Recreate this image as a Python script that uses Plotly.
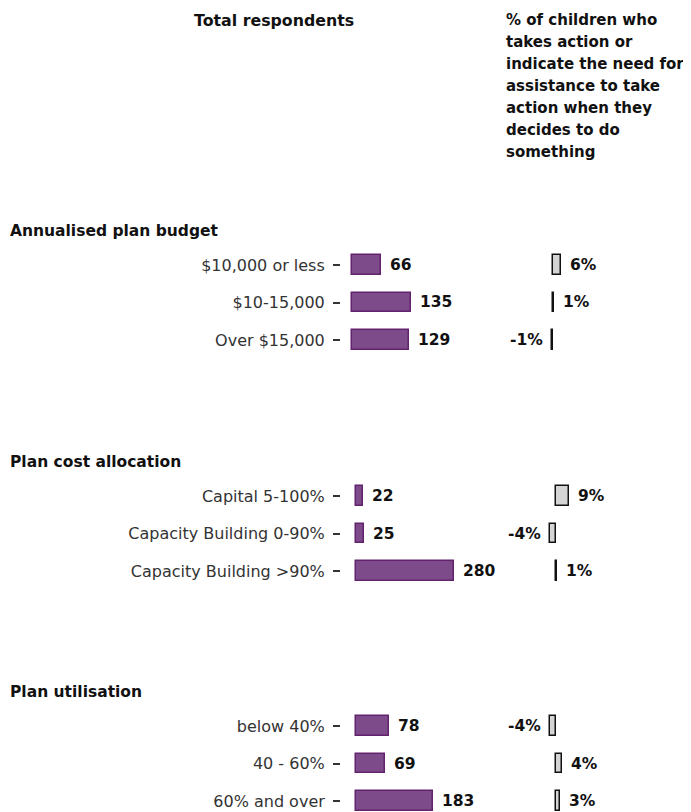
import plotly.graph_objects as go
from plotly.subplots import make_subplots

# data
budget_labels = ["$10,000 or less", "$10-15,000", "Over $15,000"]
budget_n = [66, 135, 129]
budget_pct = [6, 1, -1]

alloc_labels = ["Capital 5-100%", "Capacity Building 0-90%", "Capacity Building >90%"]
alloc_n = [22, 25, 280]
alloc_pct = [9, -4, 1]

util_labels = ["below 40%", "40 - 60%", "60% and over"]
util_n = [78, 69, 183]
util_pct = [-4, 4, 3]

section_titles = ["Annualised plan budget", "Plan cost allocation", "Plan utilisation"]
left_heading = "Total respondents"
right_heading = ["% of children who", "takes action or", "indicate the need for",
                 "assistance to take", "action when they", "decides to do", "something"]

panels = [
    (budget_labels, budget_n, budget_pct),
    (alloc_labels, alloc_n, alloc_pct),
    (util_labels, util_n, util_pct),
]

# page body has an 8px margin, so the figure is a bit smaller than the window
OFF = 8
W, H = 691 - OFF, 812 - OFF
FONT = "DejaVu Sans"
PURPLE = "#7e4b8a"
PURPLE_LINE = "#62226e"


def px_x(p):
    return (p - OFF) / W


def px_y(p):
    return 1 - (p - OFF) / H


# window-pixel layout of each panel row: first row centre, zero of the count axis,
# px per respondent, zero of the % axis, px per percent
row_px = [265, 496, 726]
n_zero = [352, 355.5, 356]
n_scale = [0.44, 0.35, 0.42]
p_zero = [553, 556, 556]
p_scale = 1.4
step = 37.5
left_dom = (341, 500)
right_dom = (505, 690)

fig = make_subplots(rows=3, cols=2)
annotations = []

for i, (labels, counts, pcts) in enumerate(panels):
    r = i + 1
    fig.add_trace(go.Bar(
        x=counts, y=labels, orientation="h", width=0.53,
        marker=dict(color=PURPLE, line=dict(color=PURPLE_LINE, width=1.5)),
        hoverinfo="skip", showlegend=False), row=r, col=1)
    fig.add_trace(go.Bar(
        x=pcts, y=labels, orientation="h", width=0.53,
        marker=dict(color="#d4d4d4", line=dict(color="#111111", width=1.5)),
        hoverinfo="skip", showlegend=False), row=r, col=2)

    xl = "x" if i == 0 else "x%d" % (2 * i + 1)
    yl = "y" if i == 0 else "y%d" % (2 * i + 1)
    xr = "x%d" % (2 * i + 2)
    yr = "y%d" % (2 * i + 2)

    top = row_px[i] - 19
    bot = min(row_px[i] + 2 * step + 19, 812)
    ydom = [px_y(bot), px_y(top)]
    yrange = [(bot - row_px[i]) / step, (top - row_px[i]) / step]

    ax = dict(showgrid=False, zeroline=False, showline=False)
    fig.update_layout(**{
        ("xaxis" if i == 0 else "xaxis%d" % (2 * i + 1)): dict(
            ax, domain=[px_x(left_dom[0]), px_x(left_dom[1])], showticklabels=False,
            range=[(left_dom[0] - n_zero[i]) / n_scale[i], (left_dom[1] - n_zero[i]) / n_scale[i]]),
        ("yaxis" if i == 0 else "yaxis%d" % (2 * i + 1)): dict(
            ax, domain=ydom, range=yrange, type="category", categoryarray=labels,
            ticks="outside", ticklen=7, tickwidth=1.5, tickcolor="#333333",
            ticklabelstandoff=5,
            tickfont=dict(family=FONT, size=16, color="#333333")),
        "xaxis%d" % (2 * i + 2): dict(
            ax, domain=[px_x(right_dom[0]), px_x(right_dom[1])], showticklabels=False,
            range=[(right_dom[0] - p_zero[i]) / p_scale, (right_dom[1] - p_zero[i]) / p_scale]),
        "yaxis%d" % (2 * i + 2): dict(
            ax, domain=ydom, range=yrange, type="category", categoryarray=labels,
            showticklabels=False),
    })

    for lab, v in zip(labels, counts):
        annotations.append(dict(
            x=v, y=lab, xref=xl, yref=yl, text="<b>%d</b>" % v, showarrow=False,
            xanchor="left", xshift=7, font=dict(family=FONT, size=15.5, color="#111111")))
    for lab, v in zip(labels, pcts):
        annotations.append(dict(
            x=v, y=lab, xref=xr, yref=yr, text="<b>%d%%</b>" % v, showarrow=False,
            xanchor="left" if v >= 0 else "right", xshift=7 if v >= 0 else -7,
            font=dict(family=FONT, size=15.5, color="#111111")))

    annotations.append(dict(
        x=px_x(8), y=px_y(row_px[i] - 34), xref="paper", yref="paper",
        text="<b>%s</b>" % section_titles[i], showarrow=False, xanchor="left",
        yanchor="middle", font=dict(family=FONT, size=15.5, color="#111111")))

annotations.append(dict(
    x=px_x(274), y=px_y(20), xref="paper", yref="paper", text="<b>%s</b>" % left_heading,
    showarrow=False, xanchor="center", yanchor="middle",
    font=dict(family=FONT, size=15.8, color="#111111")))
for k, line in enumerate(right_heading):
    annotations.append(dict(
        x=px_x(504), y=px_y(20 + 22 * k), xref="paper", yref="paper", text="<b>%s</b>" % line,
        showarrow=False, xanchor="left", yanchor="middle",
        font=dict(family=FONT, size=15, color="#111111")))

fig.update_layout(
    width=W, height=H, margin=dict(l=0, r=0, t=0, b=0),
    plot_bgcolor="white", paper_bgcolor="white",
    bargap=0, annotations=annotations,
)

fig.write_html("out.html")
